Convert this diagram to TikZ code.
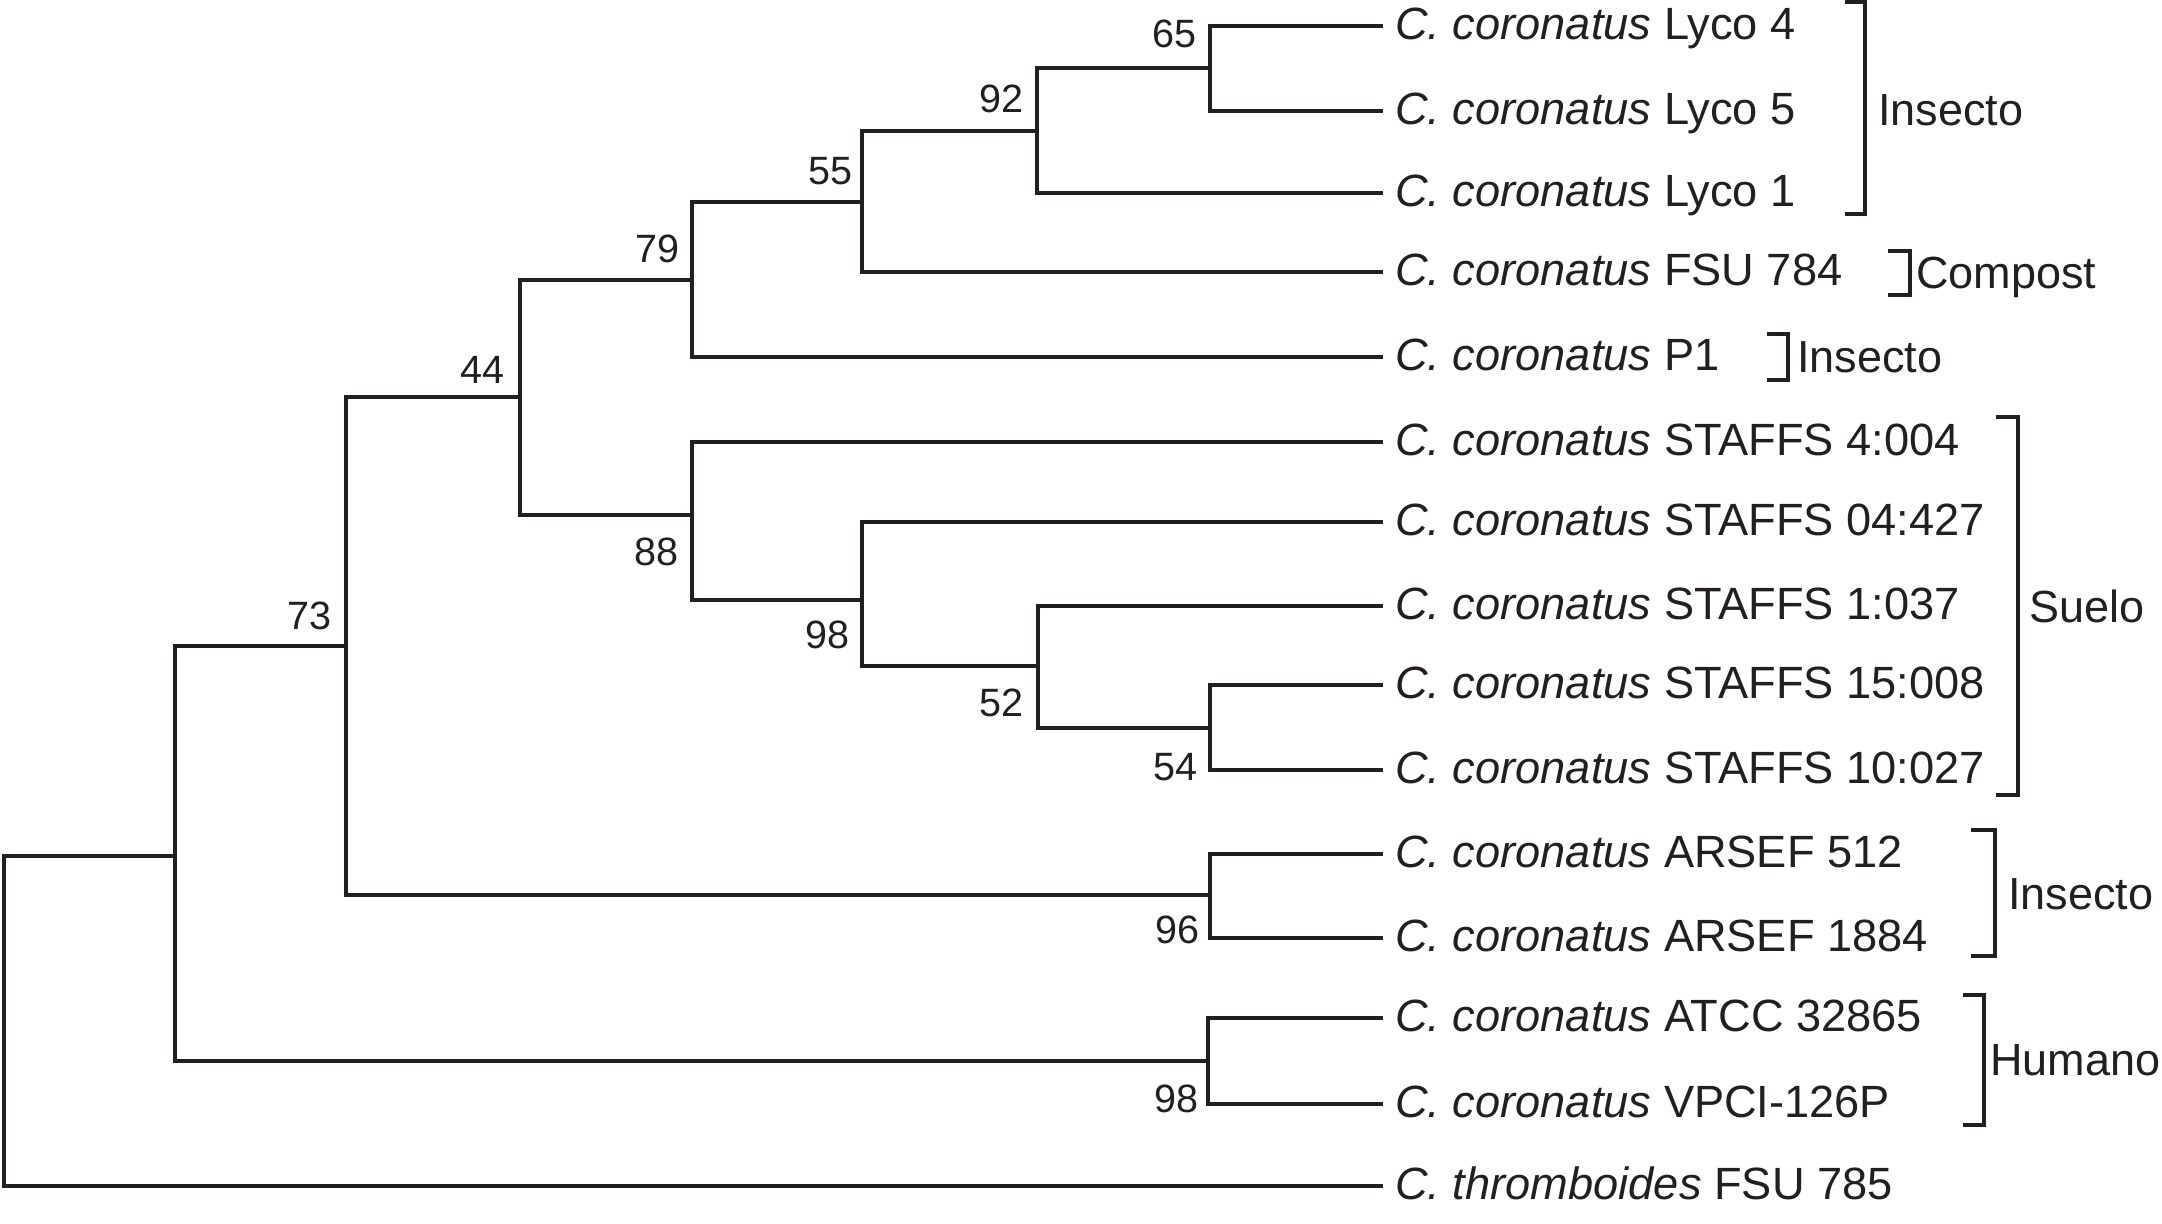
\documentclass[tikz,border=0pt]{standalone}
\usepackage{fontspec}
\setmainfont{Liberation Sans}
\definecolor{ink}{HTML}{231F20}
\tikzset{
  x=1pt, y=-1pt,
  br/.style={line width=4pt, draw=ink, line cap=rect},
  brk/.style={line width=4pt, draw=ink, line cap=butt, line join=miter},
  leaf/.style={anchor=base west, inner sep=0pt, text=ink, font=\fontsize{45.2}{50}\selectfont},
  boot/.style={anchor=base east, inner sep=0pt, text=ink, font=\fontsize{39.5}{45}\selectfont},
  grp/.style={anchor=base west, inner sep=0pt, text=ink, font=\fontsize{45}{50}\selectfont},
}
\begin{document}
\begin{tikzpicture}
\useasboundingbox (0,0) rectangle (2162,1223);
% internal nodes (x of vertical, y of incoming branch)
\coordinate (root) at (3.5,855.5);
\coordinate (nA) at (175,855.5);
\coordinate (nB) at (346,646);
\coordinate (n44) at (520,397);
\coordinate (n79) at (692,279.5);
\coordinate (n55) at (862,201.5);
\coordinate (n92) at (1037,130.5);
\coordinate (n65) at (1210,68.4);
\coordinate (n88) at (692,515);
\coordinate (n98s) at (862,600);
\coordinate (n52) at (1037.5,666);
\coordinate (n54) at (1210,728);
\coordinate (n96) at (1210,895);
\coordinate (n98h) at (1208,1061);
% leaves
\foreach \i/\y in {1/26,2/110.5,3/192.5,4/272,5/357,6/442,7/521.5,8/605.5,9/685,10/770,11/854,12/938,13/1018,14/1104,15/1186}
  \coordinate (l\i) at (1381,\y);
% branches
\foreach \p/\c in {root/nA, root/l15, nA/nB, nA/n98h, nB/n44, nB/n96, n44/n79, n44/n88,
  n79/n55, n79/l5, n55/n92, n55/l4, n92/n65, n92/l3, n65/l1, n65/l2,
  n88/l6, n88/n98s, n98s/l7, n98s/n52, n52/l8, n52/n54, n54/l9, n54/l10,
  n96/l11, n96/l12, n98h/l13, n98h/l14}
  \draw[br] (\p) |- (\c);
% leaf labels
\node[leaf] (t1) at (1395,39.5) {\textit{C. coronatus} Lyco 4};
\node[leaf] (t2) at (1395,124) {\textit{C. coronatus} Lyco 5};
\node[leaf] (t3) at (1395,206) {\textit{C. coronatus} Lyco 1};
\node[leaf] (t4) at (1395,285.5) {\textit{C. coronatus} FSU 784};
\node[leaf] (t5) at (1395,370.5) {\textit{C. coronatus} P1};
\node[leaf] (t6) at (1395,455.5) {\textit{C. coronatus} STAFFS 4:004};
\node[leaf] (t7) at (1395,535) {\textit{C. coronatus} STAFFS 04:427};
\node[leaf] (t8) at (1395,619) {\textit{C. coronatus} STAFFS 1:037};
\node[leaf] (t9) at (1395,698.5) {\textit{C. coronatus} STAFFS 15:008};
\node[leaf] (t10) at (1395,783.5) {\textit{C. coronatus} STAFFS 10:027};
\node[leaf] (t11) at (1395,867.5) {\textit{C. coronatus} ARSEF 512};
\node[leaf] (t12) at (1395,951.5) {\textit{C. coronatus} ARSEF 1884};
\node[leaf] (t13) at (1395,1031.5) {\textit{C. coronatus} ATCC 32865};
\node[leaf] (t14) at (1395,1117.5) {\textit{C. coronatus} VPCI-126P};
\node[leaf] (t15) at (1395,1199.5) {\textit{C. thromboides} FSU 785};
% bootstrap values
\node[boot] (b65) at (1196.5,48) {65};
\node[boot] (b92) at (1024,112.7) {92};
\node[boot] (b55) at (852.5,184) {55};
\node[boot] (b79) at (680,262) {79};
\node[boot] (b44) at (505,383.6) {44};
\node[boot] (b73) at (332,629.3) {73};
\node[boot] (b88) at (678.5,565.4) {88};
\node[boot] (b98s) at (850,648.5) {98};
\node[boot] (b52) at (1024,716) {52};
\node[boot] (b54) at (1197.5,780.8) {54};
\node[boot] (b96) at (1199.5,943.7) {96};
\node[boot] (b98h) at (1198.5,1112.5) {98};
% group brackets
\coordinate (g1t) at (1845,2);   \coordinate (g1b) at (1845,213.5);
\coordinate (g2t) at (1888,250.5); \coordinate (g2b) at (1888,295);
\coordinate (g3t) at (1767,334); \coordinate (g3b) at (1767,379.6);
\coordinate (g4t) at (1996,416.5); \coordinate (g4b) at (1996,794.7);
\coordinate (g5t) at (1971,830); \coordinate (g5b) at (1971,956);
\coordinate (g6t) at (1963,995); \coordinate (g6b) at (1963,1125);
\draw[brk] (g1t) -- ++(20,0) |- (g1b);
\draw[brk] (g2t) -- ++(21.5,0) |- (g2b);
\draw[brk] (g3t) -- ++(21,0) |- (g3b);
\draw[brk] (g4t) -- ++(21.5,0) |- (g4b);
\draw[brk] (g5t) -- ++(23.5,0) |- (g5b);
\draw[brk] (g6t) -- ++(20.5,0) |- (g6b);
\node[grp] (h1) at (1878,125.5) {Insecto};
\node[grp] (h2) at (1916,288) {Compost};
\node[grp] (h3) at (1797,372.7) {Insecto};
\node[grp] (h4) at (2029,622.7) {Suelo};
\node[grp] (h5) at (2008,909.7) {Insecto};
\node[grp] (h6) at (1990,1075) {Humano};
\end{tikzpicture}
\end{document}
